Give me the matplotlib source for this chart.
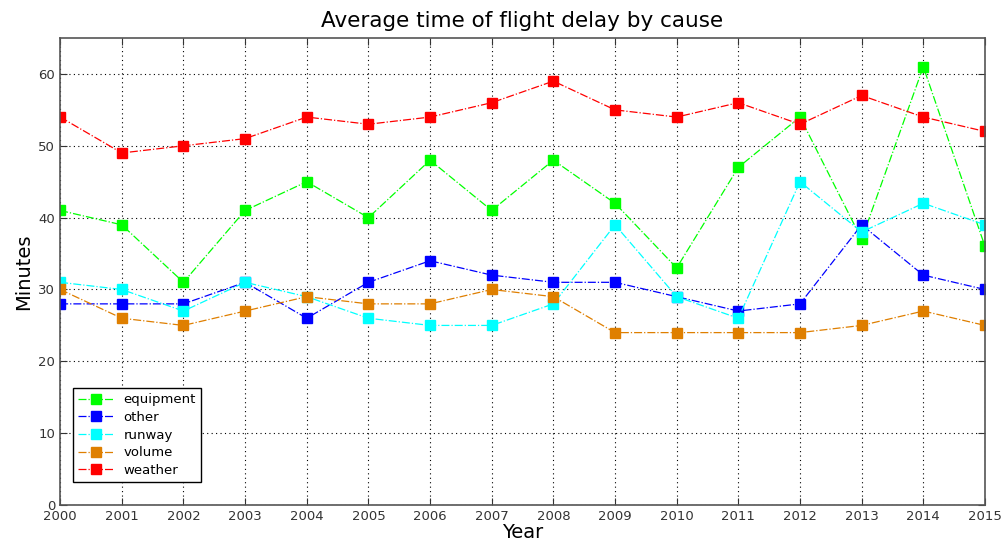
import matplotlib
matplotlib.use("Agg")
import matplotlib.pyplot as plt

years = list(range(2000, 2016))
equipment = [41, 39, 31, 41, 45, 40, 48, 41, 48, 42, 33, 47, 54, 37, 61, 36]
other = [28, 28, 28, 31, 26, 31, 34, 32, 31, 31, 29, 27, 28, 39, 32, 30]
runway = [31, 30, 27, 31, 29, 26, 25, 25, 28, 39, 29, 26, 45, 38, 42, 39]
volume = [30, 26, 25, 27, 29, 28, 28, 30, 29, 24, 24, 24, 24, 25, 27, 25]
weather = [54, 49, 50, 51, 54, 53, 54, 56, 59, 55, 54, 56, 53, 57, 54, 52]

series = [
    ("equipment", equipment, "#00ff00"),
    ("other", other, "#0000ff"),
    ("runway", runway, "#00ffff"),
    ("volume", volume, "#df7f00"),
    ("weather", weather, "#ff0000"),
]

fig = plt.figure(figsize=(10.02, 5.55), dpi=100)
ax = fig.add_axes([0.06, 0.09, 0.923, 0.8415])

for name, vals, col in series:
    ax.plot(years, vals, ls="-.", lw=0.9, color=col, marker="s", ms=6.8,
            mec=col, mfc=col, label=name)

ax.set_xlim(2000, 2015)
ax.set_ylim(0, 65)
ax.set_xticks(years)
ax.set_yticks(range(0, 61, 10))
ax.grid(True, ls=(0, (1, 3)), color="black", lw=0.8)
ax.tick_params(direction="in", labelsize=9.5, length=5, top=True, right=True,
               colors="#333333")
for s in ax.spines.values():
    s.set_color("#555555")
    s.set_linewidth(1.2)

ax.set_title("Average time of flight delay by cause", fontsize=15.5, pad=8)
ax.set_xlabel("Year", fontsize=14, labelpad=0)
ax.set_ylabel("Minutes", fontsize=14)

leg = ax.legend(loc="lower left", bbox_to_anchor=(0.007, 0.035), fontsize=9.5,
                fancybox=False, edgecolor="black", framealpha=1,
                handlelength=2.6, borderpad=0.4, labelspacing=0.35)
leg.get_frame().set_linewidth(1.0)

fig.savefig("out.png", dpi=100)
